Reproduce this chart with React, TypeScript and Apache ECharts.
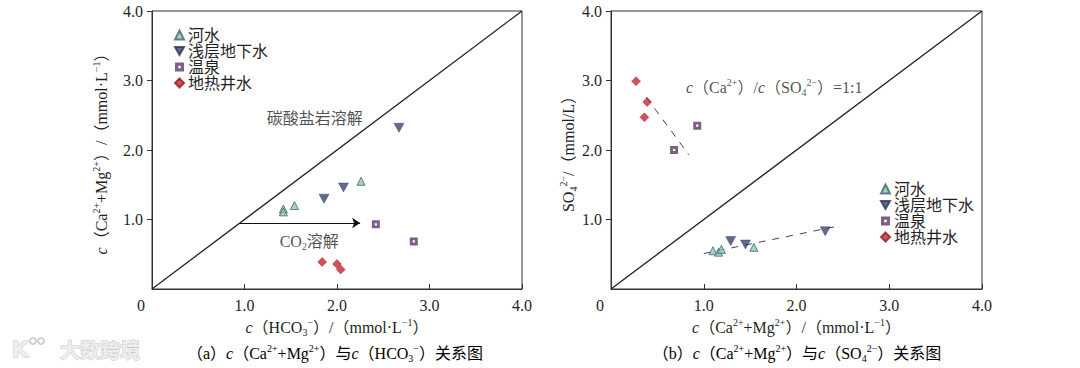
import React, { useEffect, useRef } from "react";
import * as echarts from "echarts";

// ---- data ----
const legendNames = ["河水", "浅层地下水", "温泉", "地热井水"];

// (a) c(Ca2+ + Mg2+) vs c(HCO3-)
const riverA = [[1.42, 1.15], [1.42, 1.11], [1.54, 1.2], [2.26, 1.55]];
const shallowA = [[1.86, 1.3], [2.07, 1.46], [2.67, 2.32]];
const springA = [[2.42, 0.93], [2.83, 0.685]];
const wellA = [[1.84, 0.39], [2.0, 0.36], [2.04, 0.28]];
const lineA = [[0, 0], [4, 4]];
const co2Arrow = [[0.95, 0.95], [2.25, 0.95]];
const annotA1 = [[1.76, 2.46]];
const annotA2 = [[1.7, 0.68]];

// (b) SO4 2- vs c(Ca2+ + Mg2+)
const riverB = [[1.1, 0.55], [1.16, 0.53], [1.19, 0.57], [1.54, 0.6]];
const shallowB = [[1.29, 0.69], [1.45, 0.64], [2.31, 0.83]];
const springB = [[0.93, 2.35], [0.68, 2.0]];
const wellB = [[0.27, 2.99], [0.39, 2.69], [0.36, 2.47]];
const lineB = [[0, 0], [4, 4]];
const trendWell = [[0.38, 2.76], [0.84, 1.93]];
const trendRiver = [[1.0, 0.51], [2.41, 0.895]];
const annotB = [[1.76, 2.9]];

const SERIF = "'Liberation Serif', 'Times New Roman', 'Noto Sans CJK SC', serif";
const TXT = "#1f1f1f";

const INV_TRI = "path://M0,0 L10,0 L5,9 Z";
const HOLLOW_SQ = "path://M0,0 L10,0 L10,10 L0,10 Z M3.6,3.6 L3.6,6.4 L6.4,6.4 L6.4,3.6 Z";

const rich = {
  n: { fontFamily: SERIF, fontSize: 16, color: TXT, lineHeight: 20 },
  i: { fontFamily: SERIF, fontSize: 16, color: TXT, lineHeight: 20, fontStyle: "italic" },
  sup: { fontFamily: SERIF, fontSize: 10, color: TXT, lineHeight: 11, verticalAlign: "top" },
  sub: { fontFamily: SERIF, fontSize: 10, color: TXT, lineHeight: 10, verticalAlign: "bottom" },
  z: { fontFamily: SERIF, fontSize: 16, color: TXT, padding: [0, 22, 0, 0] },
};

const styles = {
  river: { color: "#8ec7bf", borderColor: "#3e6663", borderWidth: 1 },
  shallow: { color: "#3b4670", borderColor: "#2c3558", borderWidth: 0.5 },
  spring: { color: "#5e3766", borderWidth: 0 },
  well: { color: "#c3272f", borderColor: "#8e1b22", borderWidth: 0.5 },
};

function scatterSet(g: number, r: number[][], s: number[][], sp: number[][], w: number[][]) {
  return [
    { type: "scatter", name: "河水", xAxisIndex: g, yAxisIndex: g, data: r, symbol: "triangle", symbolSize: 8, itemStyle: styles.river, z: 5 },
    { type: "scatter", name: "浅层地下水", xAxisIndex: g, yAxisIndex: g, data: s, symbol: INV_TRI, symbolSize: [10, 9], itemStyle: styles.shallow, z: 5 },
    { type: "scatter", name: "温泉", xAxisIndex: g, yAxisIndex: g, data: sp, symbol: HOLLOW_SQ, symbolSize: 8, itemStyle: styles.spring, z: 5 },
    { type: "scatter", name: "地热井水", xAxisIndex: g, yAxisIndex: g, data: w, symbol: "diamond", symbolSize: 9, itemStyle: styles.well, z: 5 },
  ];
}

function lineSeries(g: number, data: number[][], dashed: boolean) {
  return {
    type: "line",
    name: dashed ? "trend" : "1:1",
    xAxisIndex: g,
    yAxisIndex: g,
    data,
    symbol: "none",
    silent: true,
    lineStyle: dashed
      ? { color: "#444", width: 1, type: [7, 7] }
      : { color: "#222", width: 1.3 },
    z: 3,
  };
}

function textSeries(g: number, data: number[][], text: string) {
  return {
    type: "scatter",
    name: "annot",
    xAxisIndex: g,
    yAxisIndex: g,
    data,
    symbolSize: 0,
    silent: true,
    label: {
      show: true,
      position: "inside",
      formatter: text,
      rich,
      fontFamily: SERIF,
      fontSize: 16,
      color: TXT,
    },
    z: 4,
  };
}

function xAxis(g: number, name: string) {
  return {
    type: "value",
    gridIndex: g,
    min: 0,
    max: 4,
    interval: 1,
    name,
    nameLocation: "middle",
    nameGap: 28,
    nameTextStyle: { rich },
    axisLine: { lineStyle: { color: "#333", width: 1 } },
    axisTick: { inside: true, length: 5, lineStyle: { color: "#333" } },
    axisLabel: {
      margin: 8,
      fontFamily: SERIF,
      fontSize: 16,
      color: TXT,
      rich,
      formatter: (v: number) => (v === 0 ? "{z|0}" : v.toFixed(1)),
    },
    splitLine: { show: false },
  };
}

function yAxis(g: number, name: string, gap: number) {
  return {
    type: "value",
    gridIndex: g,
    min: 0,
    max: 4,
    interval: 1,
    name,
    nameLocation: "middle",
    nameRotate: 90,
    nameGap: gap,
    nameTextStyle: { rich },
    axisLine: { lineStyle: { color: "#333", width: 1 } },
    axisTick: { inside: false, length: 5, lineStyle: { color: "#333" } },
    axisLabel: {
      margin: 9,
      showMinLabel: false,
      fontFamily: SERIF,
      fontSize: 16,
      color: TXT,
      formatter: (v: number) => v.toFixed(1),
    },
    splitLine: { show: false },
  };
}

function legend(left: number, top: number) {
  return {
    data: legendNames,
    orient: "vertical",
    left,
    top,
    itemGap: 0,
    itemWidth: 9,
    itemHeight: 9,
    textStyle: { fontFamily: SERIF, fontSize: 16, color: TXT, padding: [0, 0, 0, -1] },
    selectedMode: false,
  };
}

export default function App() {
  const ref = useRef<HTMLDivElement>(null);
  useEffect(() => {
    if (!ref.current) return;
    const chart = echarts.init(ref.current, null, { renderer: "svg" });
    const option: any = {
      animation: false,
      backgroundColor: "#ffffff",
      grid: [
        { left: 152, top: 11, width: 370, height: 278, show: true, borderColor: "#333", borderWidth: 1 },
        { left: 611, top: 11, width: 371, height: 278, show: true, borderColor: "#333", borderWidth: 1 },
      ],
      xAxis: [
        xAxis(0, "{i|c}{n|（HCO}{sub|3}{sup|−}{n|）/（mmol·L}{sup|−1}{n|）}"),
        xAxis(1, "{i|c}{n|（Ca}{sup|2+}{n|+Mg}{sup|2+}{n|）/（mmol·L}{sup|−1}{n|）}"),
      ],
      yAxis: [
        yAxis(0, "{i|c}{n|（Ca}{sup|2+}{n|+Mg}{sup|2+}{n|）/（mmol·L}{sup|−1}{n|）}", 41),
        yAxis(1, "{n|SO}{sub|4}{sup|2−}{n|/（mmol/L）}", 30),
      ],
      legend: [legend(169, 22), legend(875, 176)],
      series: [
        lineSeries(0, lineA, false),
        {
          type: "lines",
          coordinateSystem: "cartesian2d",
          xAxisIndex: 0,
          yAxisIndex: 0,
          silent: true,
          symbol: ["none", "arrow"],
          symbolSize: 8,
          lineStyle: { color: "#111", width: 1.1, opacity: 1 },
          data: [{ coords: co2Arrow }],
          z: 4,
        },
        ...scatterSet(0, riverA, shallowA, springA, wellA),
        textSeries(0, annotA1, "{n|碳酸盐岩溶解}"),
        textSeries(0, annotA2, "{n|CO}{sub|2}{n|溶解}"),
        lineSeries(1, lineB, false),
        lineSeries(1, trendWell, true),
        lineSeries(1, trendRiver, true),
        ...scatterSet(1, riverB, shallowB, springB, wellB),
        textSeries(1, annotB, "{i|c}{n|（Ca}{sup|2+}{n|）/}{i|c}{n|（SO}{sub|4}{sup|2−}{n|）=1:1}"),
      ],
      graphic: [
        {
          type: "text",
          x: 335,
          y: 353,
          style: {
            text: "{n|（a）}{i|c}{n|（Ca}{sup|2+}{n|+Mg}{sup|2+}{n|）与}{i|c}{n|（HCO}{sub|3}{sup|−}{n|）关系图}",
            rich,
            align: "center",
            verticalAlign: "middle",
          },
        },
        {
          type: "text",
          x: 797,
          y: 353,
          style: {
            text: "{n|（b）}{i|c}{n|（Ca}{sup|2+}{n|+Mg}{sup|2+}{n|）与}{i|c}{n|（SO}{sub|4}{sup|2−}{n|）关系图}",
            rich,
            align: "center",
            verticalAlign: "middle",
          },
        },
        {
          type: "text",
          x: 100,
          y: 349,
          style: {
            text: "大数跨境",
            align: "center",
            verticalAlign: "middle",
            fontFamily: "'Noto Sans CJK SC', sans-serif",
            fontSize: 20,
            fontWeight: "bold",
            fill: "#eeeeee",
            stroke: "#c9c9c9",
            lineWidth: 1,
          },
        },
        {
          type: "text",
          x: 20,
          y: 349,
          style: {
            text: "K",
            align: "center",
            verticalAlign: "middle",
            fontFamily: "'DejaVu Sans', sans-serif",
            fontSize: 22,
            fontWeight: "bold",
            fill: "#eeeeee",
            stroke: "#c9c9c9",
            lineWidth: 1,
          },
        },
        { type: "ring", shape: { cx: 33, cy: 341, r: 4, r0: 2 }, style: { fill: "#d0d0d0" } },
        { type: "ring", shape: { cx: 41, cy: 341, r: 4, r0: 2 }, style: { fill: "#d0d0d0" } },
      ],
    };
    chart.setOption(option);
    return () => chart.dispose();
  }, []);
  return (
    <div
      ref={ref}
      style={{ position: "absolute", left: 0, top: 0, width: 1080, height: 368, background: "#fff" }}
    />
  );
}
